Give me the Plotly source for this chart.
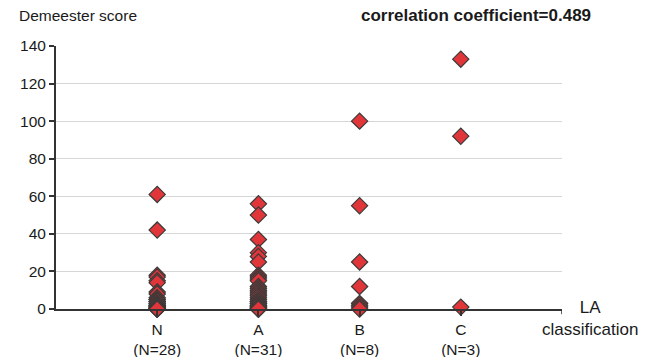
import plotly.graph_objects as go

categories = ["N", "A", "B", "C"]
group_sizes = [28, 31, 8, 3]
scores_N = [61, 42, 18, 17, 15, 14, 9, 8, 6, 5, 5, 4, 4, 3, 3, 2, 2, 2, 1, 1, 1, 1, 0, 0, 0, 0, 0, 0]
scores_A = [56, 50, 37, 30, 28, 25, 18, 17, 16, 15, 12, 11, 10, 9, 8, 7, 6, 5, 4, 4, 3, 3, 2, 2, 1, 1, 1, 0, 0, 0, 0]
scores_B = [100, 55, 25, 12, 3, 2, 1, 0]
scores_C = [133, 92, 1]
y_ticks = [0, 20, 40, 60, 80, 100, 120, 140]
corr_text = "correlation coefficient=0.489"

groups = [scores_N, scores_A, scores_B, scores_C]
xs, ys = [], []
for cat, vals in zip(categories, groups):
    xs += [cat] * len(vals)
    ys += vals

FONT = "Liberation Sans, Arial, sans-serif"
AX = "#333333"

fig = go.Figure()
fig.add_trace(go.Scatter(
    x=xs, y=ys, mode="markers", cliponaxis=False,
    marker=dict(symbol="diamond", size=12.5, color="#e0363a",
                line=dict(color="#3a3a3a", width=1.2)),
    showlegend=False, hoverinfo="y"))

tick_text = [f"{c}<br>(N={n})" for c, n in zip(categories, group_sizes)]

fig.update_layout(
    width=647, height=357,
    margin=dict(l=56, r=85, t=46, b=48, autoexpand=False),
    paper_bgcolor="white", plot_bgcolor="white",
    font=dict(family=FONT, size=15.5, color="#1a1a1a"),
    xaxis=dict(type="category", categoryorder="array", categoryarray=categories,
               range=[-1, 4], tickvals=categories, ticktext=tick_text, automargin=False,
               showgrid=False, zeroline=False, showline=True, linecolor=AX, linewidth=2,
               ticks="outside", ticklen=5, tickwidth=1.5, tickcolor=AX,
               tickfont=dict(size=15.5, color="#1a1a1a")),
    yaxis=dict(range=[0, 140], tickvals=y_ticks, automargin=False,
               showgrid=True, gridcolor="#d6d6d6", gridwidth=1.2,
               zeroline=False, showline=True, linecolor=AX, linewidth=2,
               ticks="outside", ticklen=5, tickwidth=1.5, tickcolor=AX,
               tickfont=dict(size=15.5, color="#1a1a1a")),
)

# right-end tick of x axis
fig.add_shape(type="line", xref="x", yref="paper", x0=4, x1=4, y0=0, y1=-0.02,
              line=dict(color=AX, width=1.5))

fig.add_annotation(xref="paper", yref="paper", x=-39/506, y=1 + 30/263, xanchor="left",
                   yanchor="middle", text="Demeester score", showarrow=False,
                   font=dict(size=15.5, family=FONT, color="#1a1a1a"))
fig.add_annotation(xref="paper", yref="paper", x=(476-56)/506, y=1 + 30/263, xanchor="center",
                   yanchor="middle", text=f"<b>{corr_text}</b>", showarrow=False,
                   font=dict(size=17, family=FONT, color="#1a1a1a"))
fig.add_annotation(xref="paper", yref="paper", x=(590-56)/506, y=-9/263, xanchor="center",
                   yanchor="middle", text="LA<br>classification", showarrow=False,
                   font=dict(size=17, family=FONT, color="#1a1a1a"))

fig.write_html("out.html", config={"displayModeBar": False},
               post_script="document.body.style.margin='0';document.body.style.overflow='hidden';")
